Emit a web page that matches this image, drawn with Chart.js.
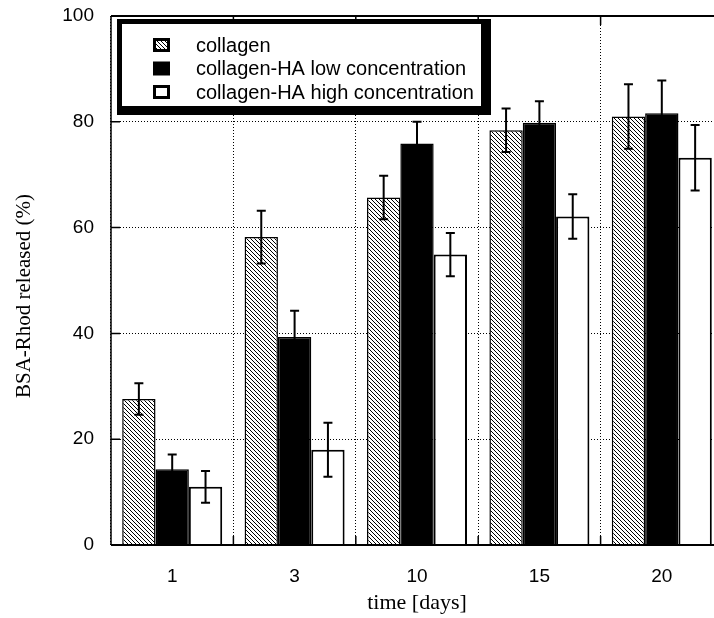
<!DOCTYPE html>
<html>
<head>
<meta charset="utf-8">
<script src="https://cdn.jsdelivr.net/npm/chart.js@4"></script>
<style>
  html, body { margin: 0; padding: 0; background: #fff; overflow: hidden; }
  #wrap { width: 726px; height: 618px; }
</style>
</head>
<body>
<div id="wrap"><canvas id="chart" width="726" height="618"></canvas></div>
<script>
// time points and the three series (values in %, errors are +/-)
const days = ['1', '3', '10', '15', '20'];
const seriesNames = ['collagen', 'collagen-HA low concentration', 'collagen-HA high concentration'];
const collagen = [27.6, 58.2, 65.7, 78.4, 81.0];
const collagenErr = [3.0, 5.0, 4.1, 4.1, 6.1];
const lowHA = [14.3, 39.3, 75.9, 79.8, 81.6];
const lowHAErr = [2.8, 5.0, 4.1, 4.1, 6.2];
const highHA = [11.0, 18.0, 54.9, 62.1, 73.2];
const highHAErr = [3.0, 5.1, 4.1, 4.2, 6.2];
const yTicks = [0, 20, 40, 60, 80, 100];

const canvas = document.getElementById('chart');

function makeHatch() {
  let tile = document.createElement('canvas');
  tile.width = 4;
  tile.height = 4;
  let g = tile.getContext('2d');
  g.fillStyle = '#fff';
  g.fillRect(0, 0, 4, 4);
  g.fillStyle = '#000';
  for (let i = 0; i < 4; i++) g.fillRect(i, i, 1, 1);
  return canvas.getContext('2d').createPattern(tile, 'repeat');
}
const hatch = makeHatch();

// solid frame plus short inward tick marks
const frame = {
  id: 'frame',
  afterDatasetsDraw(chart) {
    const {ctx, chartArea: a, scales: {x, y}} = chart;
    ctx.save();
    ctx.strokeStyle = '#000';
    ctx.lineWidth = 2;
    ctx.beginPath();
    ctx.moveTo(a.left, a.top); ctx.lineTo(a.right, a.top);
    ctx.moveTo(a.left, a.bottom); ctx.lineTo(a.right, a.bottom);
    ctx.moveTo(a.right, a.top); ctx.lineTo(a.right, a.bottom);
    ctx.stroke();
    ctx.lineWidth = 1.5;
    ctx.beginPath();
    ctx.moveTo(a.left, a.top); ctx.lineTo(a.left, a.bottom);
    let half = (x.getPixelForValue(1) - x.getPixelForValue(0)) / 2;
    for (let i = 1; i < days.length; i++) {
      let px = x.getPixelForValue(i) - half;
      ctx.moveTo(px, a.bottom); ctx.lineTo(px, a.bottom - 9);
      ctx.moveTo(px, a.top); ctx.lineTo(px, a.top + 9);
    }
    yTicks.slice(1, -1).forEach(v => {
      let py = y.getPixelForValue(v);
      ctx.moveTo(a.left, py); ctx.lineTo(a.left + 9, py);
      ctx.moveTo(a.right, py); ctx.lineTo(a.right - 9, py);
    });
    ctx.stroke();
    ctx.restore();
  }
};

const errorBars = {
  id: 'errorBars',
  afterDatasetsDraw(chart) {
    const {ctx, scales: {y}} = chart;
    ctx.save();
    ctx.strokeStyle = '#000';
    ctx.lineWidth = 2;
    chart.data.datasets.forEach((ds, di) => {
      chart.getDatasetMeta(di).data.forEach((bar, i) => {
        let v = ds.data[i], e = ds.errors[i];
        let top = y.getPixelForValue(v + e);
        let bot = y.getPixelForValue(v - e);
        ctx.beginPath();
        ctx.moveTo(bar.x, top); ctx.lineTo(bar.x, bot);
        ctx.moveTo(bar.x - 4.5, top); ctx.lineTo(bar.x + 4.5, top);
        ctx.moveTo(bar.x - 4.5, bot); ctx.lineTo(bar.x + 4.5, bot);
        ctx.stroke();
      });
    });
    ctx.restore();
  }
};

// boxed legend with drop shadow, plus the rotated y title
const boxLegend = {
  id: 'boxLegend',
  afterDraw(chart) {
    const ctx = chart.ctx;
    ctx.save();
    ctx.fillStyle = '#000';
    ctx.fillRect(117, 19, 374, 96);
    ctx.fillStyle = '#fff';
    ctx.fillRect(122, 24, 359, 82);
    ctx.font = '20px "Liberation Sans", Arial, sans-serif';
    ctx.textBaseline = 'middle';
    chart.data.datasets.forEach((ds, i) => {
      let cy = 45 + i * 23.5;
      ctx.fillStyle = '#000';
      ctx.fillRect(153, cy - 7, 17, 14);
      ctx.fillStyle = ds.backgroundColor;
      if (i !== 1) ctx.fillRect(156, cy - 4, 11, 8);
      ctx.fillStyle = '#000';
      ctx.fillText(ds.label, 196, cy + 1);
    });
    ctx.translate(24, 296);
    ctx.rotate(-Math.PI / 2);
    ctx.textAlign = 'center';
    ctx.font = '21px "Liberation Serif", "Times New Roman", serif';
    ctx.fillText('BSA-Rhod released (%)', 0, 0);
    ctx.restore();
  }
};

new Chart(canvas, {
  type: 'bar',
  data: {
    labels: days,
    datasets: [
      { label: seriesNames[0], data: collagen, errors: collagenErr, backgroundColor: hatch, borderColor: '#000', borderWidth: 1.5 },
      { label: seriesNames[1], data: lowHA, errors: lowHAErr, backgroundColor: '#000', borderColor: '#000', borderWidth: 1.5 },
      { label: seriesNames[2], data: highHA, errors: highHAErr, backgroundColor: '#fff', borderColor: '#000', borderWidth: 2 }
    ]
  },
  options: {
    responsive: false,
    animation: false,
    layout: { padding: { top: 16, right: 3, left: 0, bottom: 0 } },
    datasets: { bar: { categoryPercentage: 0.817, barPercentage: 1.0 } },
    plugins: { legend: { display: false }, tooltip: { enabled: false } },
    scales: {
      x: {
        grid: { offset: true, color: '#000', lineWidth: 1, drawTicks: false },
        border: { display: false, dash: [1, 2] },
        ticks: { color: '#000', font: { family: 'Liberation Sans', size: 19 }, padding: 20 },
        title: {
          display: true, text: 'time [days]', color: '#000',
          font: { family: 'Liberation Serif', size: 22 },
          padding: { top: 0, bottom: 2 }
        },
        afterFit(s) { s.height = 73; s.paddingLeft = 0; s.paddingRight = 0; }
      },
      y: {
        min: 0,
        max: 100,
        afterBuildTicks(s) { s.ticks = yTicks.map(v => ({ value: v })); },
        grid: {
          color: c => (c.tick && (c.tick.value === 0 || c.tick.value === 100)) ? 'rgba(0,0,0,0)' : '#000',
          lineWidth: 1,
          drawTicks: false
        },
        border: { display: false, dash: [1, 2] },
        ticks: { color: '#000', font: { family: 'Liberation Sans', size: 19 }, padding: 17 },
        afterFit(s) { s.width = 111; s.paddingTop = 0; s.paddingBottom = 0; }
      }
    }
  },
  plugins: [frame, errorBars, boxLegend]
});
</script>
</body>
</html>
